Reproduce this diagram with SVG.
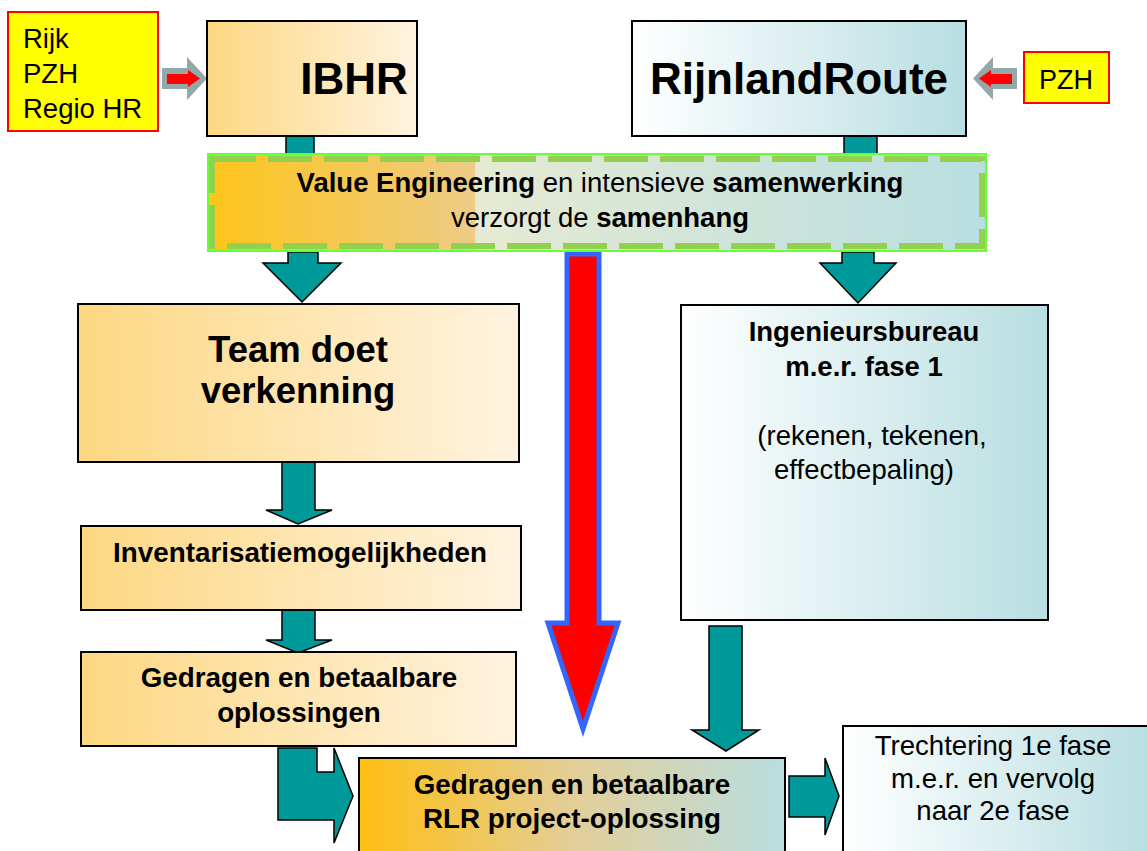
<svg xmlns="http://www.w3.org/2000/svg" width="1147" height="851" viewBox="0 0 1147 851">
<defs>
  <linearGradient id="warm" x1="0" y1="0" x2="1" y2="0">
    <stop offset="0" stop-color="#FDD882"/>
    <stop offset="1" stop-color="#FFF3E0"/>
  </linearGradient>
  <linearGradient id="cool" x1="0" y1="0" x2="1" y2="0">
    <stop offset="0" stop-color="#FFFFFF"/>
    <stop offset="1" stop-color="#B8DEE1"/>
  </linearGradient>
  <linearGradient id="ve" x1="0" y1="0" x2="1" y2="0">
    <stop offset="0" stop-color="#FEC51A"/>
    <stop offset="0.343" stop-color="#EDCB86"/>
    <stop offset="0.344" stop-color="#E6EAD2"/>
    <stop offset="1" stop-color="#B9DEE1"/>
  </linearGradient>
  <linearGradient id="rlr" x1="0" y1="0" x2="1" y2="0">
    <stop offset="0" stop-color="#FFBE10"/>
    <stop offset="0.5" stop-color="#E3CE98"/>
    <stop offset="1" stop-color="#B9DEE1"/>
  </linearGradient>
  <style>
    .box { stroke: #000; stroke-width: 2; }
    .src { fill: #FFFF00; stroke: #FF0000; stroke-width: 2; }
    .t { font-family: "Liberation Sans", Arial, sans-serif; fill: #000; text-anchor: middle; }
    .b { font-weight: bold; }
    .teal { fill: #009999; stroke: #000; stroke-width: 1.5; stroke-linejoin: miter; }
    .gray { fill: #93A9A9; }
    .red { fill: #FF0000; }
  </style>
</defs>
<rect width="1147" height="851" fill="#FFFFFF"/>

<g id="connectors">
  <!-- input arrows -->
  <polygon class="gray" points="162,68 187,68 187,57 207,78.5 187,100 187,89 162,89"/>
  <polygon class="red" points="167,74 188,74 188,70 200,78.5 188,87 188,84 167,84"/>
  <polygon class="gray" points="1017,68 993,68 993,57 973,78.5 993,100 993,89 1017,89"/>
  <polygon class="red" points="1012,74 991,74 991,70 979,78.5 991,87 991,84 1012,84"/>
  <!-- top stubs -->
  <rect class="teal" x="286" y="136" width="28" height="18"/>
  <rect class="teal" x="844" y="136" width="33" height="18"/>
  <!-- down arrows from VE -->
  <polygon class="teal" points="288,252 318,252 318,263 341,263 302,302 263,263 288,263"/>
  <polygon class="teal" points="842,252 874,252 874,263 896,263 858,303 820,263 842,263"/>
  <!-- red big arrow -->
  <polygon points="567,254 599,254 599,623 618,623 583,729 548,623 567,623" fill="#FF0000" stroke="#3366FF" stroke-width="5" stroke-linejoin="miter"/>
  <!-- left column arrows -->
  <polygon class="teal" points="282,462 315,462 315,510 332,510 298,524 266,510 282,510"/>
  <polygon class="teal" points="282,610 315,610 315,640 332,640 298,653 266,640 282,640"/>
  <!-- Ingenieursbureau to RLR -->
  <polygon class="teal" points="709,626 742,626 742,730 759,730 726,751 692,730 709,730"/>
  <!-- bent arrow -->
  <polygon class="teal" points="278,748 317,748 317,772 334,772 334,748 353,796 334,843 334,820 278,820"/>
  <!-- RLR to Trechtering -->
  <polygon class="teal" points="789,776 825,776 825,758 839,796 825,835 825,817 789,817"/>
</g>

<g id="src-left">
  <rect class="src" x="8" y="12" width="150" height="119"/>
  <text class="t" font-size="27.5" text-anchor="start" style="text-anchor:start" x="23" y="48">Rijk</text>
  <text class="t" font-size="27.5" style="text-anchor:start" x="23" y="83">PZH</text>
  <text class="t" font-size="27.5" style="text-anchor:start" x="23" y="118">Regio HR</text>
</g>

<g id="ibhr">
  <rect class="box" x="207" y="21" width="210" height="115" fill="url(#warm)"/>
  <text class="t b" font-size="44" x="354" y="94">IBHR</text>
</g>

<g id="rijnlandroute">
  <rect class="box" x="632" y="21" width="334" height="115" fill="url(#cool)"/>
  <text class="t b" font-size="44" x="799" y="94">RijnlandRoute</text>
</g>

<g id="src-right">
  <rect class="src" x="1024" y="52" width="85" height="51"/>
  <text class="t" font-size="27" x="1066" y="89">PZH</text>
</g>

<g id="value-engineering">
  <rect x="208" y="154" width="778" height="97" fill="url(#ve)"/>
  <rect x="212" y="159" width="770" height="87" fill="none" stroke="#92D050" stroke-width="6" stroke-dasharray="44 12"/>
  <rect x="208" y="154" width="778" height="97" fill="none" stroke="#66FF33" stroke-width="2"/>
  <text class="t" font-size="27.5" x="600" y="192"><tspan class="b">Value Engineering</tspan> en intensieve <tspan class="b">samenwerking</tspan></text>
  <text class="t" font-size="27.5" x="600" y="227">verzorgt de <tspan class="b">samenhang</tspan></text>
</g>

<g id="team">
  <rect class="box" x="78" y="304" width="441" height="158" fill="url(#warm)"/>
  <text class="t b" font-size="36.5" x="298" y="362">Team doet</text>
  <text class="t b" font-size="36.5" x="298" y="403">verkenning</text>
</g>

<g id="ingenieursbureau">
  <rect class="box" x="681" y="305" width="367" height="315" fill="url(#cool)"/>
  <text class="t b" font-size="27.5" x="864" y="341">Ingenieursbureau</text>
  <text class="t b" font-size="27.5" x="864" y="376">m.e.r. fase 1</text>
  <text class="t" font-size="27.5" x="872" y="445">(rekenen, tekenen,</text>
  <text class="t" font-size="27.5" x="864" y="479">effectbepaling)</text>
</g>

<g id="inventarisatie">
  <rect class="box" x="81" y="526" width="440" height="84" fill="url(#warm)"/>
  <text class="t b" font-size="27.8" x="300" y="562">Inventarisatiemogelijkheden</text>
</g>

<g id="gedragen">
  <rect class="box" x="81" y="652" width="435" height="94" fill="url(#warm)"/>
  <text class="t b" font-size="27.8" x="299" y="687">Gedragen en betaalbare</text>
  <text class="t b" font-size="27.8" x="299" y="722">oplossingen</text>
</g>

<g id="rlr">
  <rect class="box" x="359" y="758" width="426" height="100" fill="url(#rlr)"/>
  <text class="t b" font-size="27.8" x="572" y="794">Gedragen en betaalbare</text>
  <text class="t b" font-size="27.8" x="572" y="828">RLR project-oplossing</text>
</g>

<g id="trechtering">
  <rect class="box" x="843" y="726" width="310" height="135" fill="url(#cool)"/>
  <text class="t" font-size="27.6" x="993" y="755">Trechtering 1e fase</text>
  <text class="t" font-size="27.6" x="993" y="788">m.e.r. en vervolg</text>
  <text class="t" font-size="27.6" x="993" y="820">naar 2e fase</text>
</g>
</svg>
